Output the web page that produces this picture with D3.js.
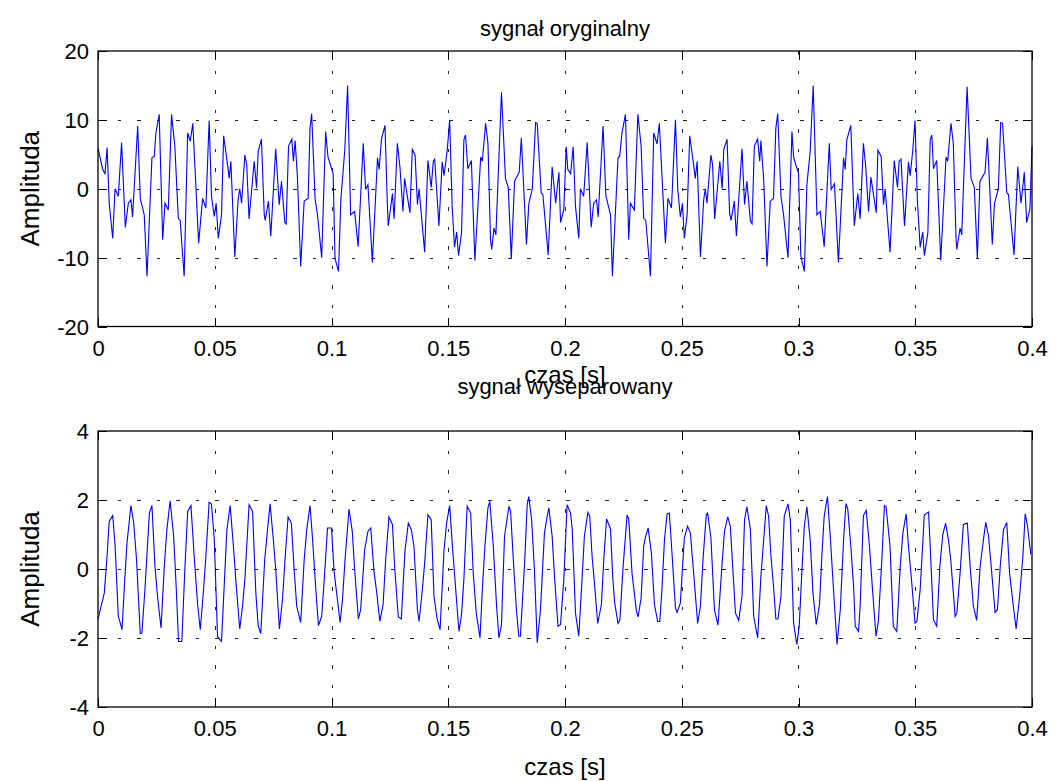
<!DOCTYPE html>
<html><head><meta charset="utf-8">
<script src="https://cdn.jsdelivr.net/npm/d3@7"></script>
<style>
body{margin:0;background:#fff}
svg{display:block}
text{font-family:"Liberation Sans",Arial,Helvetica,sans-serif;fill:#000}
</style>
</head><body>
<svg id="chart" width="1056" height="781"></svg>
<script>
// ---------- data ----------
const topTime = [0,.002,.003,.0039,.0048,.0063,.0073,.0087,.0101,.0117,.013,.0141,.0148,.017,.0181,.0198,.021,.0231,.0241,.0248,.0262,.0277,.0287,.0301,.0315,.0329,.0344,.0352,.0369,.0384,.0395,.0406,.0431,.0448,.0462,.0476,.0486,.0498,.0506,.0515,.0529,.0538,.0552,.0562,.0569,.0586,.06,.0607,.0615,.0629,.0637,.0647,.0669,.0679,
.0686,.07,.0712,.0716,.073,.074,.0761,.0776,.0786,.08,.0806,.0816,.083,.0837,.0844,.0854,.0868,.0883,.09,.0908,.0915,.093,.094,.0958,.0975,.0985,.0997,.1007,.1015,.103,.104,.1057,.1069,.1082,.1099,.1114,.1136,.1146,.1156,.1175,.1197,.1204,.1214,.1229,.1239,.1243,.1261,.1268,.1282,.1293,.1306,.1313,.1336,.1346,.1358,
.1368,.1375,.1399,.1413,.1427,.1436,.1442,.146,.1474,.1482,.1496,.1506,.1517,.1527,.1536,.1544,.1557,.1567,.1574,.1584,.1599,.1614,.1639,.1646,.166,.167,.1681,.1686,.1696,.1704,.1728,.1745,.1757,.177,.1784,.1804,.1813,.1835,.1845,.186,.1874,.1881,.1898,.1905,.1928,.1945,.196,.1974,.1981,.1995,.2005,.2012,
.2024,.2035,.2045,.2059,.2066,.208,.2095,.2112,.2123,.2135,.2142,.2163,.2175,.2195,.2203,.2227,.2234,.2244,.2259,.2273,.228,.2297,.2312,.2326,.2337,.2346,.2366,.238,.2394,.2404,.243,.2441,.2456,.2473,.2483,.2494,.2503,.2511,.2523,.2534,.2548,.2558,.2566,.258,.2594,.2601,.2608,.2625,.2632,.2641,.2663,.2673,.268,.2694,.2705,.2711,.2725,
.2734,.2758,.2769,.2779,.2794,.2801,.2811,.2825,.2834,.2839,.2851,.2865,.2879,.2893,.2903,.2911,.2925,.2936,.2955,.2972,.2979,.299,.3,.301,.3025,.3036,.305,.3063,.3079,.3093,.311,.3132,.314,.3154,.3171,.3193,.32,.3207,.3224,.3239,.3254,.3264,.3278,.3288,.33,.331,.3333,.334,.3354,
.3364,.3371,.3392,.341,.3424,.3431,.3439,.3454,.3471,.3478,.3489,.3499,.3509,.3521,.3532,.3539,.3554,.3564,.3571,.3578,.3592,.3609,.3632,.3639,.3653,.3663,.3675,.3678,.3692,.3699,.3722,.3739,.3753,.3766,.3777,.3799,.3809,.383,.3839,.3856,.3866,.3874,.3892,.3899,.3923,.3939,.3953,.3967,.3977,.3991,.4];
const topAmp = [5.9,2.8,2.2,6.0,-2.1,-7.2,0,-1.1,6.7,-5.6,-2.1,-1.6,-4.1,9.1,-1.4,-3.8,-12.7,4.5,4.7,8.1,10.8,-7.4,-2.1,-3.1,10.8,6.2,-4.3,-4.6,-12.7,8.1,6.9,9.5,-7.9,-1.4,-2.8,9.9,-1.1,-4.0,-2.1,-7.2,-3.8,7.7,4.2,1.5,4.0,-9.9,-1.6,0,-2.1,4.9,3.5,-4.4,4.0,0.1,
5.4,7.2,-3.8,-4.6,-1.8,-6.9,5.8,-2.3,1.1,-4.9,-5.1,6.2,7.2,4.0,7.0,1.8,-11.3,-1.8,-1.4,8.8,10.9,-1.6,-3.8,-10.0,8.3,4.6,3.3,2.2,-10.1,-12.0,-1.6,5.7,15.0,-3.8,-3.3,-8.4,6.6,-0.1,0.6,-10.7,4.5,2.8,7.2,9.2,-2.1,-5.4,-0.7,-4.4,6.6,3.2,-3.3,1.5,-3.5,5.7,4.9,
-2.3,0,-9.2,4.1,0.2,4.0,4.3,-5.4,3.9,1.9,5.7,10.0,-2.8,-8.5,-6.3,-9.7,-6.4,7.1,7.8,2.9,4.1,-10.4,4.6,4.0,9.5,6.6,-7.4,-8.8,-5.7,-6.7,14.0,1.5,0.2,-10.2,1.1,2.4,7.4,-8.1,-2.2,0,9.6,9.5,-0.6,-0.8,-9.6,3.2,-2.1,2.4,-4.9,-3.0,6.1,2.8,
2.2,6.1,-2.6,-7.2,0,-1.1,6.7,-5.6,-2.1,-1.6,-4.1,9.1,-1.0,-3.8,-12.7,4.5,4.7,8.1,10.8,-7.4,-2.1,-3.1,10.8,6.2,-4.3,-4.6,-12.7,8.1,6.5,9.5,-7.9,-1.4,-2.8,10.0,-0.1,-4.1,-2.1,-7.2,-3.8,7.7,4.2,1.5,4.0,-9.9,-1.6,0,-2.1,4.9,3.5,-4.4,4.0,0,5.7,7.2,-3.5,-4.6,-1.8,
-6.9,5.8,-2.3,1.1,-4.7,-5.1,6.2,7.2,4.0,7.0,1.3,-11.3,-1.8,-1.4,8.8,10.9,-1.1,-3.8,-10.0,8.3,4.6,3.3,2.3,-9.8,-12.0,0.6,5.4,15.0,-3.8,-3.3,-8.4,6.6,-0.1,0.7,-10.7,4.5,2.8,7.1,9.2,-5.4,-0.7,-4.4,6.6,3.2,-3.3,1.7,-3.5,5.6,4.7,
-2.3,0,-9.2,4.1,0.2,4.0,4.3,-5.4,3.9,1.9,5.4,9.9,-1.6,-8.5,-6.3,-9.7,-6.4,7.1,7.8,2.9,4.1,-10.4,4.6,4.0,9.5,6.6,-7.4,-8.8,-5.7,-6.7,14.8,1.5,0.2,-10.2,1.1,2.4,7.4,-8.1,-2.2,0,9.6,9.5,-0.6,-0.8,-9.6,3.2,-2.1,2.4,-4.9,-3.0,6.1];

const botTime = [0,.0027,.0039,.0048,.0063,.0073,.0087,.0103,.0113,.0124,.0141,.0153,.0165,.0181,.0188,.0201,.022,.0231,.0244,.0255,.027,.0284,.0295,.0309,.0324,.0334,.0345,.0359,.0372,.0384,.0398,.0412,.0426,.0438,.0452,.0462,.0476,.0486,.0498,.0512,.0529,.0552,.0566,.058,.059,.0607,.0619,.0629,.0647,.0662,.0676,
.0686,.0697,.0714,.0726,.0737,.0751,.0761,.0777,.079,.0801,.0814,.0828,.084,.0851,.0868,.0883,.0894,.0908,.0918,.0933,.0944,.0958,.0968,.0983,.1,.1011,.1022,.1037,.1047,.1058,.1075,.1089,.1099,.1115,.1125,.1142,.1156,.1168,.1182,.1194,.1207,.1221,.1232,.1246,.1261,.1271,.1286,.1299,.1315,.1329,.1342,
.1353,.1368,.1375,.1389,.1399,.1413,.1427,.1439,.1453,.1465,.1482,.1493,.1506,.1517,.1532,.1546,.1557,.1567,.1581,.1596,.1607,.162,.1636,.1646,.1657,.167,.1678,.1693,.1707,.1717,.1728,.1741,.176,.1767,.1781,.1792,.1802,.1809,.1827,.1838,.1845,.1857,.1869,.1881,.1895,.1912,.1924,.1931,.1945,.1955,.197,.1981,.1995,.2009,.2024,
.2031,.2045,.2059,.2073,.2083,.2098,.2106,.2116,.2126,.214,.2156,.2166,.2178,.2195,.2205,.2213,.2227,.2235,.2249,.2266,.2273,.2287,.2306,.2313,.2326,.2337,.2344,.2356,.237,.2383,.2397,.2406,.2416,.2426,.2437,.2447,.2459,.2473,.248,.2494,.2511,.2525,.2537,.2551,.2568,.258,.2591,.2605,.2611,.2625,.264,.2655,.2673,.2683,.2697,.2708,.273,
.2744,.2758,.2769,.2779,.2794,.2808,.2825,.2839,.2851,.2862,.2872,.2882,.2893,.2903,.2912,.2925,.2939,.2955,.2965,.2979,.2993,.3003,.3015,.3025,.3036,.305,.3062,.3076,.309,.31,.311,.3124,.3136,.315,.3165,.3179,.3193,.3203,.3211,.3224,.3236,.3243,.3257,.3264,.3278,.329,.3304,.3318,.3332,.3342,.3357,.3368,.3375,.3392,.3406,
.3421,.3435,.3447,.3461,.3471,.3485,.3499,.3507,.3521,.3539,.3557,.3564,.3578,.3592,.3606,.3618,.363,.3642,.3652,.3671,.3678,.3692,.3706,.3723,.3735,.3749,.3763,.3778,.3792,.3802,.3814,.3824,.3842,.3852,.3864,.3878,.3892,.3904,.3921,.3932,.3947,.3961,.3971,.3981,.3995];
const botAmp = [-1.45,-0.7,0.4,1.38,1.55,0.7,-1.37,-1.76,-0.5,0.75,1.84,1.33,0.27,-1.87,-1.86,-0.6,1.62,1.84,0.08,-0.8,-1.71,0.08,1.14,1.98,0.95,-0.4,-2.1,-2.1,0,1.67,1.84,0.37,-0.98,-1.76,-0.6,0.37,1.93,1.88,0.85,-1.97,-2.1,1.14,1.84,0.66,-0.3,-1.74,-1.08,-0.3,1.86,1.67,-0.7,
-1.64,-1.87,0.27,1.14,1.89,0.85,0,-1.74,-0.89,0.27,1.51,1.33,0,-1.08,-1.55,0.27,1.14,1.84,0.95,-0.6,-1.64,-1.37,-0.4,1.19,1.19,-0.07,-0.7,-1.55,-0.89,0.27,1.74,1.09,0,-1.45,-1.18,0.56,1.09,1.19,-0.07,-0.7,-1.52,-1.03,0.27,1.51,1.29,0,-1.39,-1.45,0.56,1.33,1.14,
0.66,-1.18,-1.52,-0.6,0.17,1.57,1.43,-0.79,-1.47,-1.76,0.56,1.33,1.84,0.75,-0.6,-1.81,-1.32,-0.3,1.82,1.62,-0.12,-1.28,-2.0,-0.6,0.66,1.77,1.96,0.66,-1.08,-2.0,-1.61,0.95,1.82,1.67,0,-1.18,-1.95,-1.95,0.17,1.86,2.1,1.43,0,-2.14,-1.18,1.04,1.53,1.77,0.95,-0.21,-1.66,-1.61,-0.3,1.86,1.62,
1.14,-1.28,-1.95,-0.3,0.95,1.64,1.53,0.37,-0.4,-1.58,-1.03,0.27,1.45,1.16,-0.3,-0.99,-1.58,-1.49,0.08,1.57,1.45,-0.12,-1.23,-1.39,-0.84,0.66,0.9,1.19,0.46,-1.03,-1.52,-1.52,-0.5,0.85,1.59,1.62,0.37,-1.13,-1.26,-0.99,0.9,1.24,1.04,-0.12,-1.58,-1.08,0.27,1.57,1.62,0.9,-1.18,-1.63,0.17,1.09,1.51,1.24,-1.28,
-1.49,-0.79,1.43,1.8,1.14,-1.37,-2.0,-0.21,0.85,1.84,1.53,0.37,-0.5,-1.45,-1.45,-0.79,1.53,1.89,1.43,-1.57,-2.19,-1.66,0,1.24,1.8,0.85,-0.7,-1.61,-1.03,0.37,1.53,2.1,0.95,-0.6,-2.19,-1.18,0.85,1.89,1.74,0.66,-0.5,-1.66,-1.81,-1.08,1.55,1.7,0.66,-0.7,-1.95,-1.52,0.27,1.84,1.8,0.66,-1.66,
-1.81,0,1.04,1.6,0.66,-0.4,-1.57,-1.52,-0.6,1.57,1.65,0.66,-1.47,-1.66,0.13,1.0,1.33,0.85,0.27,-1.37,-1.28,-0.12,1.29,1.33,0.08,-1.08,-1.49,0.08,0.85,1.35,0.95,0.17,-1.26,-1.18,0.08,1.14,1.35,-0.12,-1.13,-1.74,-0.79,0.37,1.6,1.24,0.42];

const xTicks = [0,0.05,0.1,0.15,0.2,0.25,0.3,0.35,0.4];
const xTickLabels = ["0","0.05","0.1","0.15","0.2","0.25","0.3","0.35","0.4"];
const topYTicks = [-20,-10,0,10,20];
const botYTicks = [-4,-2,0,2,4];
const titles = ["sygnał oryginalny","sygnał wyseparowany"];
const xLabelText = "czas [s]";
const yLabelText = "Amplituda";

// ---------- drawing ----------
const svg = d3.select("#chart");
svg.append("rect").attr("width",1056).attr("height",781).attr("fill","#fff");

const L = 98, R = 1032;
const x = d3.scaleLinear().domain([0,0.4]).range([L,R]);

const panels = [
  {time: topTime, amp: topAmp, yTicks: topYTicks, top: 51, bottom: 326.5, title: titles[0], titleY: 36, tickLabY: 356, xLabY: 383},
  {time: botTime, amp: botAmp, yTicks: botYTicks, top: 431, bottom: 707, title: titles[1], titleY: 394, tickLabY: 736, xLabY: 775}
];

const TL = 9; // tick length (inward)

panels.forEach(p => {
  const y = d3.scaleLinear().domain([p.yTicks[0], p.yTicks[p.yTicks.length-1]]).range([p.bottom, p.top]);
  const g = svg.append("g");

  // grid
  const grid = g.append("g").attr("stroke","#222").attr("stroke-width",1).attr("stroke-dasharray","3.5,16").attr("shape-rendering","crispEdges");
  xTicks.slice(1,-1).forEach(t => {
    grid.append("line").attr("x1",Math.round(x(t))+0.5).attr("x2",Math.round(x(t))+0.5).attr("y1",p.top).attr("y2",p.bottom);
  });
  p.yTicks.slice(1,-1).forEach(v => {
    grid.append("line").attr("y1",Math.round(y(v))+0.5).attr("y2",Math.round(y(v))+0.5).attr("x1",L).attr("x2",R);
  });

  // signal line
  const pts = p.time.map((t,i)=>[t,p.amp[i]]);
  const line = d3.line().x(d=>x(d[0])).y(d=>y(d[1]));
  g.append("path").datum(pts).attr("d",line).attr("fill","none").attr("stroke","#0000ff").attr("stroke-width",1.1).attr("stroke-linejoin","miter");

  // axes via d3 (inward ticks)
  const fs = "22px";
  const ax = g.append("g").attr("transform",`translate(0,${p.bottom})`)
    .call(d3.axisBottom(x).tickValues(xTicks).tickFormat((d,i)=>xTickLabels[i]).tickSize(-TL).tickPadding(TL+9));
  ax.selectAll("text").attr("font-size",fs).attr("font-family",'"Liberation Sans",Arial,sans-serif').attr("dy",null).attr("y",p.tickLabY-p.bottom);
  const axT = g.append("g").attr("transform",`translate(0,${p.top})`)
    .call(d3.axisTop(x).tickValues(xTicks).tickFormat("").tickSize(-TL));
  const ay = g.append("g").attr("transform",`translate(${L},0)`)
    .call(d3.axisLeft(y).tickValues(p.yTicks).tickFormat(d=>d).tickSize(-TL).tickPadding(9));
  ay.selectAll("text").attr("font-size",fs).attr("font-family",'"Liberation Sans",Arial,sans-serif').attr("x",-9).attr("dy","0.36em");
  const ayR = g.append("g").attr("transform",`translate(${R},0)`)
    .call(d3.axisRight(y).tickValues(p.yTicks).tickFormat("").tickSize(-TL));
  [ax,axT,ay,ayR].forEach(a => {
    a.select(".domain").remove();
    a.selectAll("line").attr("stroke","#000").attr("shape-rendering","crispEdges");
  });
  // box
  g.append("rect").attr("x",L).attr("y",p.top).attr("width",R-L).attr("height",p.bottom-p.top)
    .attr("fill","none").attr("stroke","#000").attr("stroke-width",1.3);

  // texts
  g.append("text").attr("x",565).attr("y",p.titleY).attr("text-anchor","middle").attr("font-size","22px").text(p.title);
  g.append("text").attr("x",565).attr("y",p.xLabY).attr("text-anchor","middle").attr("font-size","24px").text(xLabelText);
  const cy = (p.top+p.bottom)/2;
  g.append("text").attr("transform",`translate(39,${cy}) rotate(-90)`).attr("text-anchor","middle").attr("font-size","26px").text(yLabelText);
});
</script>
</body></html>
